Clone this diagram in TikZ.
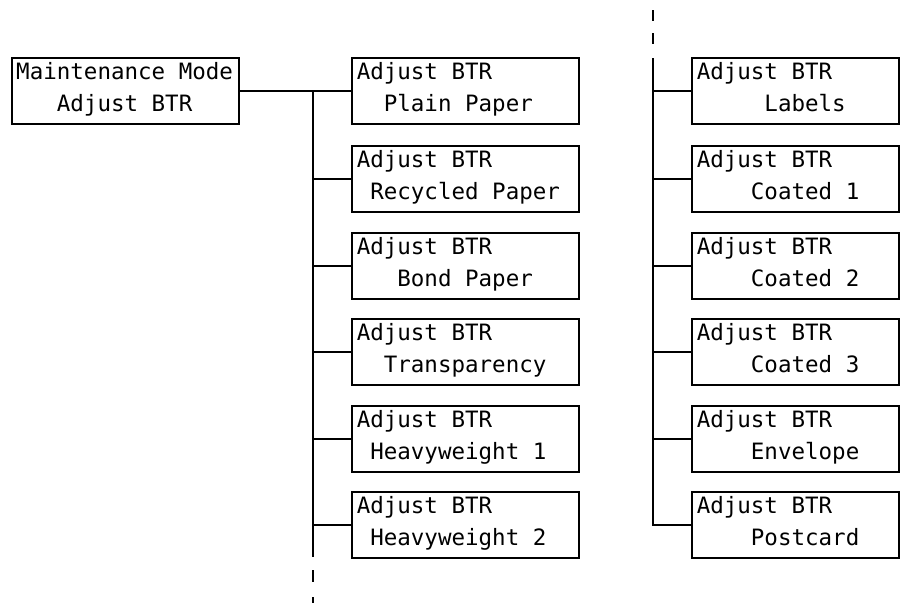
\documentclass[tikz,border=0pt]{standalone}
\usepackage{fontspec}
\setmonofont{DejaVu Sans Mono}
\begin{document}
\begin{tikzpicture}[x=1pt,y=-1pt,line width=1.5pt,
  menubox/.style={draw,rectangle,anchor=north west,inner sep=0pt,minimum height=66pt},
  colbox/.style={menubox,minimum width=227pt},
  rbox/.style={menubox,minimum width=207pt},
  txt/.style={anchor=base west,inner sep=0pt,font=\ttfamily\fontsize{22.5}{27}\selectfont},
  link/.style={line width=1.5pt},
  dashlink/.style={line width=1.5pt,dash pattern=on 12pt off 12pt}]
\useasboundingbox (0,0) rectangle (912,603);

% root box
\node[menubox,minimum width=227pt] (root) at (11,57) {};
\node[txt] (roota) at (15.5,79.5) {Maintenance Mode};
\node[txt] (rootb) at (15.5,111) {\phantom{000}Adjust BTR};

% column 2
\foreach \n/\t/\ind/\lab in {a/57/00/Plain Paper, b/145/0/Recycled Paper, c/232/000/Bond Paper, d/318/00/Transparency, e/405/0/Heavyweight 1, f/491/0/Heavyweight 2}{
  \node[colbox] (m\n) at (351,\t) {};
  \node[txt] (m\n a) at (356,\t+22.5) {Adjust BTR};
  \node[txt] (m\n b) at (356,\t+54) {\phantom{\ind}\lab};
}
% column 3
\foreach \n/\t/\ind/\lab in {a/57/00000/Labels, b/145/0000/Coated 1, c/232/0000/Coated 2, d/318/0000/Coated 3, e/405/0000/Envelope, f/491/0000/Postcard}{
  \node[rbox] (r\n) at (691,\t) {};
  \node[txt] (r\n a) at (696,\t+22.5) {Adjust BTR};
  \node[txt] (r\n b) at (696,\t+54) {\phantom{\ind}\lab};
}

% trunk of column 2
\coordinate (ctop) at (313,90);
\coordinate (cbot) at (313,557);
\coordinate (cd1) at (313,570);
\coordinate (cd2) at (313,603);
\draw[link] (root.east) -- (ma.west);
\draw[link] (ctop) -- (cbot);
\draw[link,dash pattern=on 12pt off 15pt] (cd1) -- (cd2);
\foreach \n in {b,c,d,e,f}{
  \draw[link] (m\n.west -| ctop) -- (m\n.west);
}

% trunk of column 3
\coordinate (dtop) at (653,58);
\coordinate (dd1) at (653,10);
\coordinate (dd2) at (653,45);
\draw[link,dash pattern=on 11pt off 12pt] (dd1) -- (dd2);
\draw[link] (dtop) -- (rf.west -| dtop) -- (rf.west);
\foreach \n in {a,b,c,d,e}{
  \draw[link] (r\n.west -| dtop) -- (r\n.west);
}
\end{tikzpicture}
\end{document}
